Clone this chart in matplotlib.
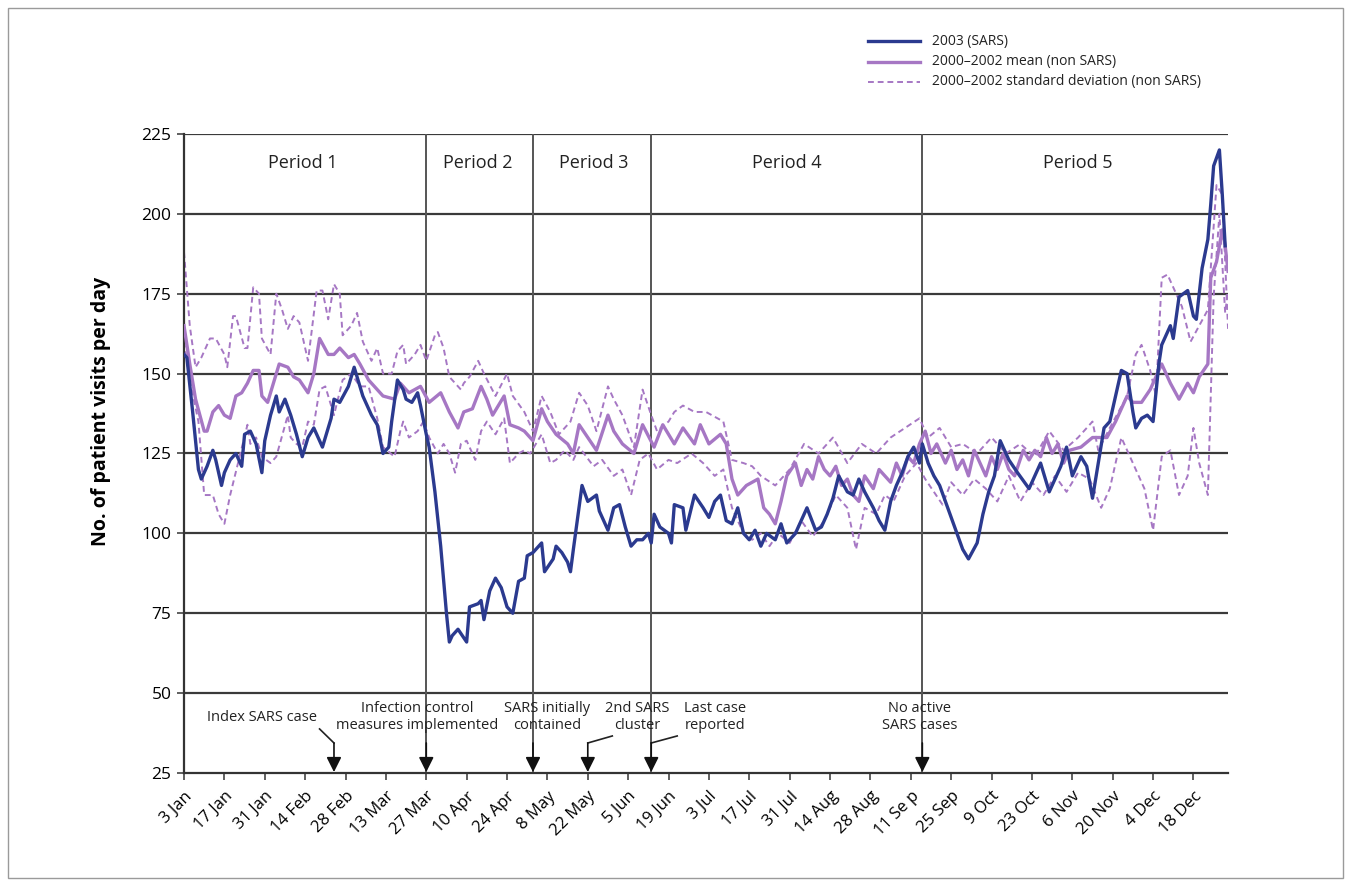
import numpy as np
import matplotlib.pyplot as plt
from matplotlib.patches import Rectangle

plt.rcParams['font.family'] = ['Open Sans', 'DejaVu Sans']

# days after 3 Jan 2003
tick_labels = ["3 Jan", "17 Jan", "31 Jan", "14 Feb", "28 Feb", "13 Mar", "27 Mar",
               "10 Apr", "24 Apr", "8 May", "22 May", "5 Jun", "19 Jun", "3 Jul",
               "17 Jul", "31 Jul", "14 Aug", "28 Aug", "11 Se p", "25 Sep", "9 Oct",
               "23 Oct", "6 Nov", "20 Nov", "4 Dec", "18 Dec"]

sars_day = [0, 1, 3, 5, 6, 8, 10, 11, 13, 14, 16, 18, 20, 21, 23, 25, 27, 28, 30, 32,
            33, 35, 37, 39, 41, 43, 45, 47, 48, 51, 52, 54, 57, 59, 60, 62, 65, 67, 69, 71,
            72, 74, 76, 77, 79, 81, 82, 84, 85, 87, 89, 91, 92, 93, 95, 98, 99, 102, 103, 104,
            106, 108, 110, 112, 114, 116, 118, 119, 121, 124, 125, 128, 129, 131, 133, 134, 135, 138, 140, 143,
            144, 147, 149, 151, 153, 155, 157, 159, 161, 162, 163, 165, 168, 169, 170, 173, 174, 177, 180, 182,
            184, 186, 188, 190, 192, 194, 196, 198, 200, 202, 205, 207, 209, 212, 214, 216, 219, 221, 223, 225,
            227, 230, 232, 234, 236, 239, 241, 243, 245, 247, 249, 251, 253, 255, 256, 258, 260, 262, 264, 266,
            268, 270, 272, 275, 277, 279, 281, 283, 286, 289, 293, 297, 300, 304, 306, 308, 311, 313, 315, 317,
            319, 321, 323, 325, 327, 329, 330, 332, 334, 336, 338, 339, 342, 343, 345, 348, 350, 351, 353, 355,
            356, 357, 359, 360, 361]
sars_val = [156, 155, 138, 120, 117, 121, 126, 123, 115, 119, 123, 125, 121, 131, 132, 128, 119, 129, 137, 143,
            138, 142, 137, 131, 124, 130, 133, 129, 127, 136, 142, 141, 146, 152, 149, 143, 137, 134, 125, 127,
            135, 148, 145, 142, 141, 144, 140, 131, 127, 113, 96, 75, 66, 68, 70, 66, 77, 78, 79, 73,
            82, 86, 83, 77, 75, 85, 86, 93, 94, 97, 88, 92, 96, 94, 91, 88, 95, 115, 110, 112,
            107, 101, 108, 109, 102, 96, 98, 98, 100, 97, 106, 102, 100, 97, 109, 108, 101, 112, 108, 105,
            110, 112, 104, 103, 108, 100, 98, 101, 96, 100, 98, 103, 97, 100, 104, 108, 101, 102, 106, 111,
            118, 113, 112, 117, 113, 108, 104, 101, 110, 115, 119, 124, 127, 122, 128, 122, 118, 115, 110, 105,
            100, 95, 92, 97, 106, 113, 118, 129, 123, 119, 114, 122, 113, 121, 127, 118, 124, 121, 111, 122,
            133, 135, 143, 151, 150, 138, 133, 136, 137, 135, 153, 159, 165, 161, 174, 176, 168, 167, 183, 192,
            203, 215, 220, 206, 190]

mean_day = [0, 2, 4, 7, 8, 10, 12, 14, 16, 18, 20, 22, 24, 26, 27, 29, 31, 33, 36, 38,
            40, 43, 45, 47, 50, 52, 54, 57, 59, 61, 64, 66, 69, 73, 75, 78, 82, 85, 89, 92,
            95, 97, 100, 103, 105, 107, 111, 113, 116, 118, 121, 124, 126, 129, 133, 135, 137, 140, 143, 147,
            149, 152, 156, 159, 163, 166, 170, 173, 177, 179, 182, 186, 188, 190, 192, 195, 199, 201, 203, 205,
            207, 209, 212, 214, 216, 218, 220, 222, 224, 226, 228, 230, 232, 234, 236, 239, 241, 243, 245, 247,
            249, 251, 253, 255, 257, 259, 261, 264, 266, 268, 270, 272, 274, 276, 278, 280, 282, 284, 286, 288,
            291, 293, 295, 297, 299, 301, 303, 305, 307, 311, 315, 320, 323, 327, 329, 332, 335, 337, 339, 342,
            345, 348, 350, 352, 355, 356, 358, 360, 361, 362]
mean_val = [165, 153, 142, 132, 132, 138, 140, 137, 136, 143, 144, 147, 151, 151, 143, 141, 147, 153, 152, 149,
            148, 144, 150, 161, 156, 156, 158, 155, 156, 153, 148, 146, 143, 142, 147, 144, 146, 141, 144, 138,
            133, 138, 139, 146, 142, 137, 143, 134, 133, 132, 129, 139, 135, 131, 128, 125, 134, 130, 126, 137,
            132, 128, 125, 134, 127, 134, 128, 133, 128, 134, 128, 131, 128, 117, 112, 115, 117, 108, 106, 103,
            110, 118, 122, 115, 120, 117, 124, 120, 118, 121, 115, 117, 112, 110, 118, 114, 120, 118, 116, 122,
            118, 124, 122, 128, 132, 125, 128, 122, 126, 120, 123, 118, 126, 122, 118, 124, 120, 125, 120, 118,
            126, 123, 126, 124, 130, 125, 128, 122, 126, 127, 130, 130, 135, 143, 141, 141, 145, 149, 153, 147,
            142, 147, 144, 149, 153, 180, 185, 195, 190, 182]

upper_day = [0, 2, 4, 6, 9, 11, 14, 15, 17, 18, 21, 22, 24, 26, 27, 30, 32, 34, 36, 38,
             40, 43, 46, 48, 50, 52, 54, 55, 58, 60, 62, 65, 67, 69, 72, 74, 76, 77, 80, 82,
             84, 87, 88, 90, 92, 96, 97, 99, 102, 104, 108, 112, 114, 118, 121, 124, 127, 130, 134, 137,
             140, 143, 147, 149, 152, 156, 159, 162, 164, 168, 170, 173, 177, 181, 187, 190, 194, 197, 200, 205,
             210, 215, 220, 225, 230, 235, 240, 245, 250, 255, 258, 262, 266, 270, 275, 280, 285, 290, 295, 300,
             305, 310, 315, 317, 321, 327, 330, 332, 335, 337, 339, 341, 343, 346, 349, 352, 355, 358, 360, 362]
upper_val = [188, 165, 152, 155, 161, 161, 156, 152, 168, 168, 158, 158, 177, 175, 161, 156, 175, 170, 164, 168,
             166, 154, 176, 176, 167, 178, 175, 162, 165, 169, 160, 154, 158, 150, 150, 157, 159, 153, 156, 159,
             154, 162, 163, 158, 149, 145, 147, 149, 154, 150, 143, 150, 143, 138, 132, 143, 138, 131, 135, 144,
             140, 132, 146, 142, 137, 127, 145, 137, 132, 135, 138, 140, 138, 138, 135, 123, 122, 121, 118, 115,
             120, 128, 125, 130, 122, 128, 125, 130, 133, 136, 130, 133, 127, 128, 125, 130, 125, 128, 124, 132,
             126, 130, 135, 126, 133, 143, 156, 159, 151, 143, 180, 181, 177, 171, 160, 165, 170, 209, 206, 164]

lower_day = [0, 2, 5, 7, 10, 12, 14, 16, 19, 22, 23, 25, 27, 30, 32, 36, 37, 39, 41, 43,
             45, 47, 49, 52, 55, 58, 61, 64, 67, 69, 73, 75, 76, 78, 81, 83, 85, 88, 90, 92,
             94, 96, 98, 101, 103, 105, 108, 111, 113, 116, 118, 120, 124, 127, 129, 132, 135, 137, 142, 145,
             149, 152, 155, 158, 161, 164, 168, 171, 176, 180, 184, 187, 190, 194, 197, 200, 203, 206, 210, 214,
             218, 222, 226, 230, 233, 236, 240, 243, 246, 250, 254, 257, 260, 263, 266, 270, 274, 278, 282, 286,
             290, 294, 298, 302, 306, 310, 314, 318, 321, 325, 329, 333, 336, 339, 342, 345, 348, 350, 352, 355,
             357, 359, 361, 362]
lower_val = [160, 148, 135, 112, 112, 106, 103, 112, 123, 134, 128, 130, 124, 122, 124, 137, 130, 128, 127, 135,
             134, 145, 146, 137, 148, 150, 146, 146, 136, 127, 124, 132, 135, 130, 132, 135, 130, 125, 128, 125,
             119, 128, 129, 123, 132, 135, 131, 136, 122, 125, 126, 125, 131, 122, 123, 126, 123, 127, 121, 123,
             118, 120, 112, 123, 125, 120, 123, 122, 125, 122, 118, 120, 108, 100, 98, 100, 96, 100, 97, 104,
             99, 104, 112, 108, 95, 108, 106, 112, 110, 118, 122, 117, 113, 109, 116, 112, 117, 114, 110, 118,
             110, 116, 112, 118, 113, 119, 117, 108, 114, 130, 122, 114, 101, 124, 126, 112, 118, 133, 122, 112,
             174, 200, 169, 176]

period_bounds = [84, 121, 162, 256]
period_names = ["Period 1", "Period 2", "Period 3", "Period 4", "Period 5"]
period_label_x = [41, 102, 142, 209, 310]

events = [
    # (day of arrow, label, text x, bend from (x, y) or None)
    (52, "Index SARS case", 27, (47, 38.8)),
    (84, "Infection control\nmeasures implemented", 81, None),
    (121, "SARS initially\ncontained", 126, None),
    (140, "2nd SARS\ncluster", 157, (148.5, 36.6)),
    (162, "Last case\nreported", 184, (171, 36.6)),
    (256, "No active\nSARS cases", 255, None),
]

navy = '#2b3a8f'
lilac = '#a677c4'

fig = plt.figure(figsize=(13.51, 8.86), dpi=100)
ax = fig.add_axes([0.1362, 0.1275, 0.7728, 0.7213])

ax.set_xlim(0, 362)
ax.set_ylim(25, 225)

for yv in range(50, 226, 25):
    ax.axhline(yv, color='#3a3a3a', lw=1.6, zorder=1)
for d in period_bounds:
    ax.axvline(d, color='#555555', lw=1.4, zorder=1)

ax.plot(upper_day, upper_val, color=lilac, lw=1.4, ls=(0, (3, 2)), zorder=2)
ax.plot(lower_day, lower_val, color=lilac, lw=1.4, ls=(0, (3, 2)), zorder=2)
ax.plot(mean_day, mean_val, color=lilac, lw=2.4, zorder=3)
ax.plot(sars_day, sars_val, color=navy, lw=2.4, zorder=4)

for name, xl in zip(period_names, period_label_x):
    ax.text(xl, 216, name, ha='center', va='center', fontsize=13, color='#222222')

for day, label, tx, bend in events:
    ax.text(tx, 42.5, label, ha='center', va='center', fontsize=10.5, color='#222222',
            linespacing=1.25)
    top = 34.4
    if bend is not None:
        ax.plot([bend[0], day], [bend[1], top], color='#222222', lw=1.2)
    ax.annotate("", xy=(day, 25.3), xytext=(day, top),
                arrowprops=dict(arrowstyle='-|>,head_length=0.9,head_width=0.45',
                                color='#111111', lw=1.2, shrinkA=0, shrinkB=0))

ax.set_xticks(np.arange(0, 351, 14))
ax.set_xticklabels(tick_labels, rotation=45, ha='right', rotation_mode='anchor',
                   fontsize=12)
ax.set_yticks(range(25, 226, 25))
ax.tick_params(axis='y', labelsize=12.5, length=5, width=1.2, color='#444444', pad=4)
ax.tick_params(axis='x', length=5, width=1.2, color='#444444', pad=6)
ax.set_ylabel("No. of patient visits per day", fontsize=14, fontweight='bold')
ax.yaxis.set_label_coords(-0.07, 0.566)

for s in ['top', 'right']:
    ax.spines[s].set_visible(False)
for s in ['left', 'bottom']:
    ax.spines[s].set_color('#333333')
    ax.spines[s].set_linewidth(1.6)

# legend drawn outside the axes
leg_rows = [(navy, '-', 2.4, "2003 (SARS)"),
            (lilac, '-', 2.4, "2000\u20132002 mean (non SARS)"),
            (lilac, (0, (3, 2)), 1.4, "2000\u20132002 standard deviation (non SARS)")]
for i, (c, ls, lw, txt) in enumerate(leg_rows):
    yy = 1 - (41 + i * 20.5) / 886
    fig.add_artist(plt.Line2D([868 / 1351, 920 / 1351], [yy, yy], color=c, ls=ls, lw=lw))
    fig.text(932 / 1351, yy, txt, fontsize=10, va='center', ha='left', color='#222222')

fig.add_artist(Rectangle((0.006, 0.009), 0.988, 0.982, transform=fig.transFigure,
                         fill=False, ec='#9a9a9a', lw=1))

fig.savefig('out.png', dpi=100)
